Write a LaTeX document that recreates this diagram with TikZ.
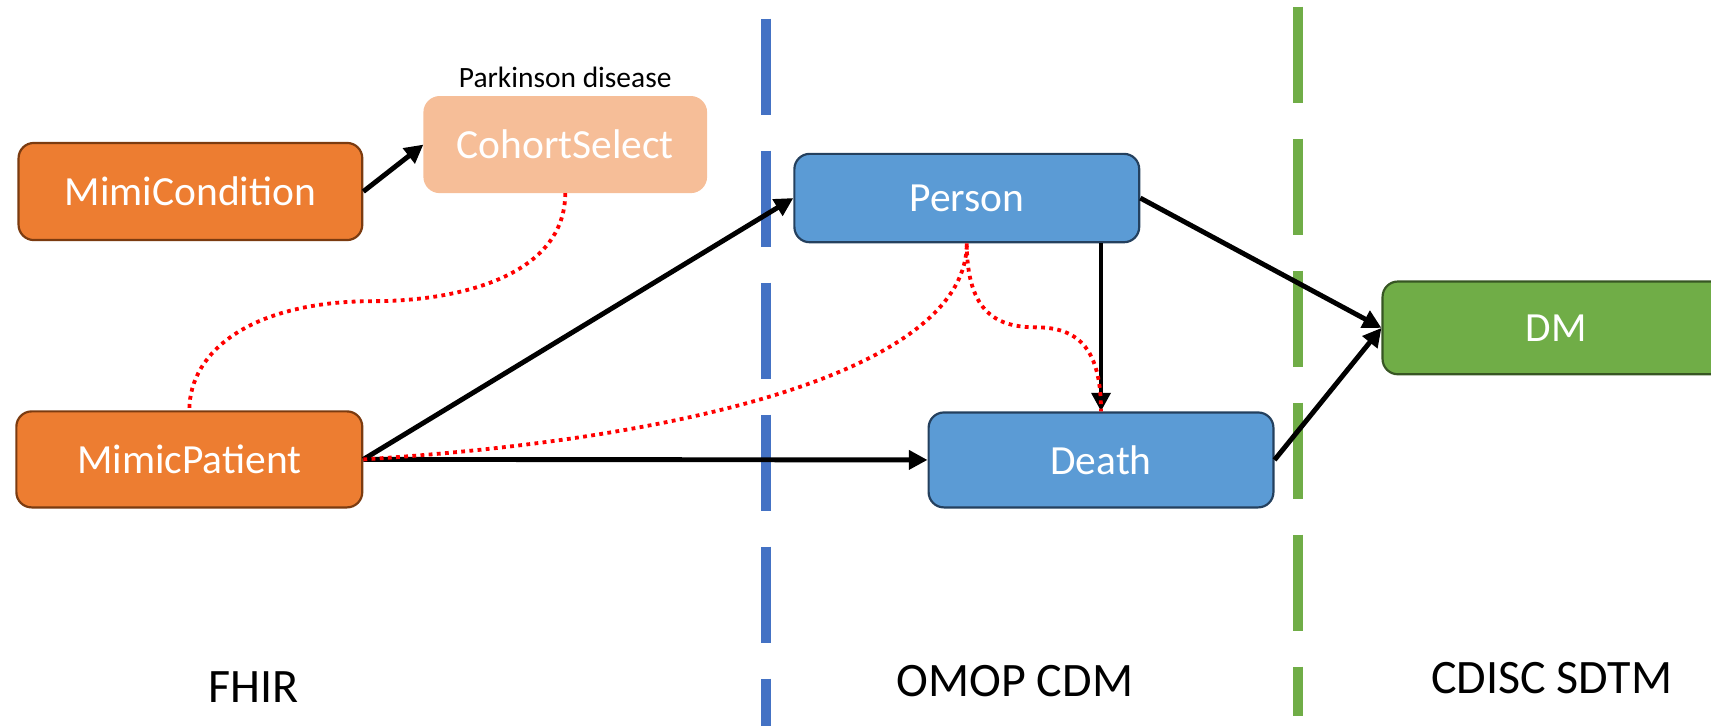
\documentclass[tikz,border=0pt]{standalone}
\usepackage{fontspec}
\setmainfont{Carlito}
\usetikzlibrary{arrows.meta,calc}
\definecolor{orangeF}{HTML}{ED7D31}
\definecolor{orangeB}{HTML}{7B3B10}
\definecolor{peach}{HTML}{F6BE98}
\definecolor{blueF}{HTML}{5B9BD5}
\definecolor{blueB}{HTML}{24405E}
\definecolor{greenF}{HTML}{70AD47}
\definecolor{greenB}{HTML}{375623}
\definecolor{dashblue}{HTML}{4472C4}
\begin{document}
\begin{tikzpicture}[x=1pt,y=-1pt,
  box/.style={rounded corners=14pt, line width=2pt, text=white, inner sep=0pt,
    font=\fontsize{38}{44}\selectfont},
  obox/.style={box, fill=orangeF, draw=orangeB},
  bbox/.style={box, fill=blueF, draw=blueB},
  gbox/.style={box, fill=greenF, draw=greenB},
  arr/.style={line width=4.5pt, -{Triangle[length=17pt,width=17pt]}},
  link/.style={red, line width=3.5pt, dash pattern=on 3.5pt off 4pt},
  lane/.style={font=\fontsize{44}{50}\selectfont},
  divider/.style={line width=10pt, dash pattern=on 88pt off 33pt}]
\useasboundingbox (0,0) rectangle (1568,665.3);
\clip (0,0) rectangle (1568,665.3);
% dividers
\draw[divider, dashblue] (702,17) -- (702,720);
\draw[divider, greenF] (1189.5,6) -- (1189.5,656);
% nodes
\node[obox, minimum width=315pt, minimum height=89pt] (mc) at (174.5,175.5) {MimiCondition};
\node[box, fill=peach, draw=peach, minimum width=258pt, minimum height=87pt] (cs) at (518,132.5) {CohortSelect};
\node[font=\fontsize{27}{32}\selectfont] (pd) at (518,71) {Parkinson disease};
\node[obox, minimum width=317pt, minimum height=88pt] (mp) at (173.5,421) {MimicPatient};
\node[bbox, minimum width=316pt, minimum height=81pt] (pe) at (886,181.5) {Person};
\node[bbox, minimum width=316pt, minimum height=87pt] (de) at (1009,421.5) {Death};
\node[gbox, minimum width=318pt, minimum height=85pt] (dm) at (1426,300.5) {DM};
% lane labels
\node[lane] (fhir) at (232,630) {FHIR};
\node[lane] (omop) at (930,624) {OMOP CDM};
\node[lane] (sdtm) at (1422,621) {CDISC SDTM};
% arrows
\draw[arr] (mc.east) -- (cs.west);
\draw[arr] (mp.east) -- (pe.west);
\draw[arr] (mp.east) -- (de.west);
\draw[arr] (de.north |- pe.south) -- (de.north);
\draw[arr] (pe.east) -- (dm.west);
\draw[arr] (de.east) -- (dm.west);
% dotted links
\draw[link] (cs.south) .. controls +(0,75) and +(80,0) .. (342,276)
  .. controls +(-110,0) and +(0,-55) .. (mp.north);
\draw[link] (mp.east) .. controls +(320,-20) and +(0,110) .. (pe.south);
\draw[link] (pe.south) .. controls +(0,65) and +(-35,0) .. (950,300)
  .. controls +(40,0) and +(0,-55) .. (de.north);
\end{tikzpicture}
\end{document}
